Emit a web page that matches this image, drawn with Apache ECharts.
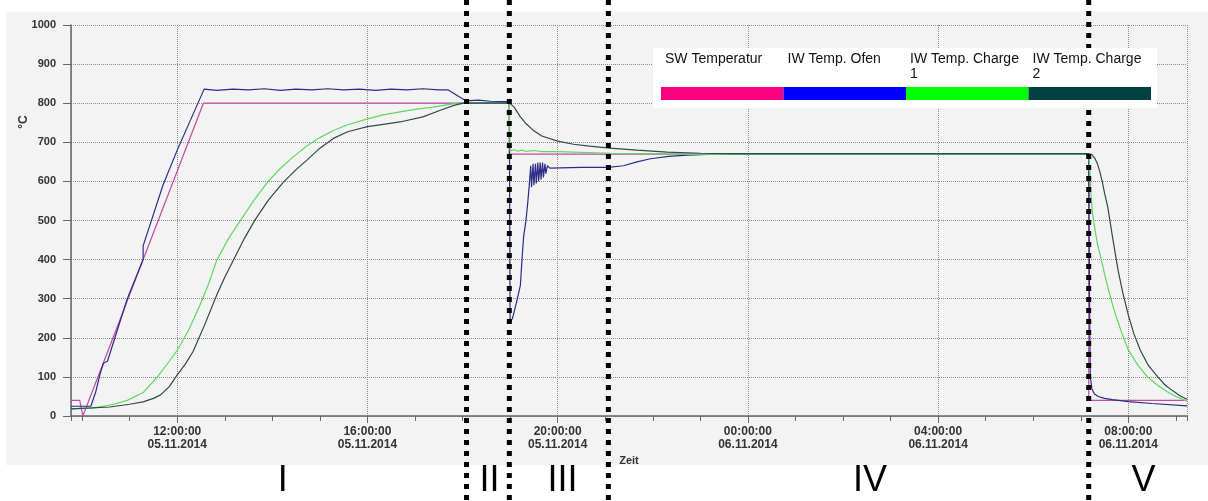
<!DOCTYPE html>
<html>
<head>
<meta charset="utf-8">
<title>Temperaturverlauf</title>
<script src="https://cdn.jsdelivr.net/npm/echarts@6/dist/echarts.min.js"></script>
<style>
  html, body { margin: 0; padding: 0; background: #fff; }
  #chart { width: 1208px; height: 501px; }
</style>
</head>
<body>
<div id="chart"></div>
<script>
// Zeitangaben als 'Tag HH:MM' (November 2014)
var timeRange = ['5 09:46', '6 09:14'];

var seriesNames = ['SW Temperatur', 'IW Temp. Ofen', 'IW Temp. Charge 1', 'IW Temp. Charge 2'];
var legendColors = ['#ff0080', '#0000ff', '#00ff00', '#004040'];
var lineColors = ['#c24aa8', '#2c2c86', '#5ed85e', '#2e4a4a'];

var swTemp = [
  ['5 09:46', 40], ['5 09:57', 40], ['5 10:01', 0], ['5 12:33', 800], ['5 18:59', 800],
  ['5 18:59', 670], ['6 07:10', 670], ['6 07:10', 40], ['6 09:14', 40]
];

var iwOfen = [
  ['5 09:46', 25], ['5 10:11', 25], ['5 10:17', 60], ['5 10:23', 110], ['5 10:27', 135],
  ['5 10:32', 140], ['5 10:57', 300], ['5 11:17', 400], ['5 11:17', 435], ['5 11:42', 590],
  ['5 12:00', 680], ['5 12:34', 836], ['5 12:50', 833], ['5 13:10', 836], ['5 13:30', 834],
  ['5 13:50', 837], ['5 14:10', 833], ['5 14:30', 836], ['5 14:50', 834], ['5 15:10', 837],
  ['5 15:30', 834], ['5 15:50', 836], ['5 16:10', 833], ['5 16:30', 836], ['5 16:50', 834],
  ['5 17:10', 837], ['5 17:30', 834], ['5 17:42', 834], ['5 18:04', 806], ['5 18:20', 808],
  ['5 18:35', 805], ['5 18:59', 804], ['5 19:00', 238], ['5 19:03', 250], ['5 19:08', 290],
  ['5 19:13', 335], ['5 19:15', 400], ['5 19:17', 458], ['5 19:20', 500], ['5 19:22', 540],
  ['5 19:24', 586], ['5 19:26', 640], ['5 19:27', 585], ['5 19:29', 645], ['5 19:30', 590],
  ['5 19:32', 645], ['5 19:33', 595], ['5 19:35', 648], ['5 19:36', 600], ['5 19:38', 648],
  ['5 19:39', 605], ['5 19:41', 648], ['5 19:42', 610], ['5 19:44', 645], ['5 19:45', 620],
  ['5 19:47', 640], ['5 19:50', 634], ['5 20:30', 636], ['5 21:04', 636], ['5 21:23', 640],
  ['5 21:40', 650], ['5 21:57', 658], ['5 22:20', 664], ['5 22:44', 667], ['5 23:10', 669],
  ['5 23:40', 670], ['6 07:10', 670], ['6 07:11', 300], ['6 07:12', 100], ['6 07:14', 70],
  ['6 07:17', 57], ['6 07:22', 50], ['6 07:30', 45], ['6 07:40', 42], ['6 08:00', 37],
  ['6 08:30', 32], ['6 09:14', 26]
];

var iwCharge1 = [
  ['5 09:46', 18], ['5 10:14', 20], ['5 10:40', 30], ['5 10:57', 40], ['5 11:17', 60],
  ['5 11:35', 100], ['5 11:50', 140], ['5 12:00', 168], ['5 12:15', 222], ['5 12:29', 285],
  ['5 12:40', 340], ['5 12:50', 399], ['5 13:05', 455], ['5 13:20', 501], ['5 13:37', 552],
  ['5 13:54', 598], ['5 14:10', 633], ['5 14:26', 662], ['5 14:43', 690], ['5 15:00', 712],
  ['5 15:17', 730], ['5 15:35', 745], ['5 16:00', 760], ['5 16:20', 770], ['5 16:41', 778],
  ['5 17:00', 784], ['5 17:23', 790], ['5 17:53', 800], ['5 18:59', 800], ['5 19:00', 678],
  ['5 19:05', 681], ['5 19:10', 677], ['5 19:15', 680], ['5 19:20', 677], ['5 19:30', 679],
  ['5 19:40', 676], ['5 20:00', 676], ['5 21:06', 672], ['5 22:44', 669], ['5 23:41', 670],
  ['6 07:10', 670], ['6 07:11', 666], ['6 07:12', 610], ['6 07:13', 560], ['6 07:15', 515],
  ['6 07:18', 476], ['6 07:21', 440], ['6 07:25', 407], ['6 07:29', 372], ['6 07:34', 330],
  ['6 07:40', 285], ['6 07:46', 246], ['6 07:53', 205], ['6 08:00', 169], ['6 08:12', 130],
  ['6 08:24', 100], ['6 08:36', 80], ['6 08:49', 62], ['6 09:00', 50], ['6 09:14', 38]
];

var iwCharge2 = [
  ['5 09:46', 18], ['5 10:35', 23], ['5 11:00', 30], ['5 11:17', 36], ['5 11:30', 45],
  ['5 11:39', 54], ['5 11:50', 75], ['5 12:00', 105], ['5 12:10', 132], ['5 12:20', 165],
  ['5 12:35', 235], ['5 12:50', 310], ['5 13:00', 355], ['5 13:11', 399], ['5 13:25', 455],
  ['5 13:38', 501], ['5 13:55', 552], ['5 14:14', 598], ['5 14:30', 630], ['5 14:44', 655],
  ['5 15:00', 685], ['5 15:17', 710], ['5 15:35', 727], ['5 16:00', 740], ['5 16:20', 746],
  ['5 16:41', 752], ['5 17:10', 765], ['5 17:32', 782], ['5 17:50', 795], ['5 18:01', 800],
  ['5 18:59', 801], ['5 19:00', 803], ['5 19:05', 790], ['5 19:13', 765], ['5 19:20', 748],
  ['5 19:29', 731], ['5 19:40', 716], ['5 20:00', 703], ['5 20:20', 695], ['5 20:40', 690],
  ['5 21:06', 685], ['5 21:40', 680], ['5 22:18', 675], ['5 23:00', 672], ['5 23:41', 671],
  ['6 07:10', 671], ['6 07:14', 668], ['6 07:18', 658], ['6 07:21', 645], ['6 07:24', 625],
  ['6 07:27', 600], ['6 07:30', 570], ['6 07:34', 535], ['6 07:40', 458], ['6 07:47', 373],
  ['6 07:53', 315], ['6 08:00', 258], ['6 08:07', 210], ['6 08:15', 169], ['6 08:25', 130],
  ['6 08:37', 100], ['6 08:47', 78], ['6 08:57', 63], ['6 09:05', 52], ['6 09:14', 43]
];

// Phasengrenzen und Beschriftung der Phasen
var phaseBounds = ['5 18:05', '5 18:59', '5 21:04', '6 07:10'];
var phaseLabels = ['I', 'II', 'III', 'IV', 'V'];
var phaseLabelTimes = ['5 14:13', '5 18:34', '5 20:06', '6 02:34', '6 08:19'];

function ts(s) {
  var p = s.split(' ');
  var hm = p[1].split(':');
  return new Date(2014, 10, +p[0], +hm[0], +hm[1]).getTime();
}
function pts(arr) {
  return arr.map(function (d) { return [ts(d[0]), d[1]]; });
}
function pad(n) { return (n < 10 ? '0' : '') + n; }

var chart = echarts.init(document.getElementById('chart'));

var dataSets = [swTemp, iwOfen, iwCharge1, iwCharge2];
var series = dataSets.map(function (d, i) {
  return {
    name: seriesNames[i],
    type: 'line',
    data: pts(d),
    showSymbol: false,
    lineStyle: { color: lineColors[i], width: 1.2 },
    itemStyle: { color: lineColors[i] },
    animation: false
  };
});

var option = {
  backgroundColor: '#fff',
  animation: false,
  grid: { left: 71, right: 21, top: 25, bottom: 85 },
  xAxis: [{
    type: 'time',
    min: ts(timeRange[0]),
    max: ts(timeRange[1]),
    minInterval: 4 * 3600 * 1000,
    maxInterval: 4 * 3600 * 1000,
    name: 'Zeit',
    nameLocation: 'middle',
    nameGap: 37,
    nameTextStyle: { fontWeight: 'bold', fontSize: 11, color: '#333', fontFamily: 'Arial' },
    axisLine: { lineStyle: { color: '#666', width: 1.5 } },
    axisTick: { length: 7, lineStyle: { color: '#666' } },
    axisLabel: {
      fontWeight: 'bold', fontSize: 12, color: '#333', lineHeight: 13, margin: 9,
      fontFamily: 'Arial',
      formatter: function (v) {
        var d = new Date(v);
        if (d.getMinutes() !== 0 || d.getHours() % 4 !== 0) return '';
        return pad(d.getHours()) + ':00:00\n' + pad(d.getDate()) + '.' + pad(d.getMonth() + 1) + '.' + d.getFullYear();
      }
    },
    splitLine: { show: true, lineStyle: { color: '#8c8c8c', type: 'dotted', width: 1 } }
  }, {
    // stündliche Hilfsstriche
    type: 'time',
    position: 'bottom',
    min: ts(timeRange[0]),
    max: ts(timeRange[1]),
    minInterval: 3600 * 1000,
    maxInterval: 3600 * 1000,
    axisLine: { show: false },
    axisTick: { length: 5, lineStyle: { color: '#666' } },
    axisLabel: { show: false },
    splitLine: { show: false }
  }],
  yAxis: {
    type: 'value',
    min: 0,
    max: 1000,
    interval: 100,
    axisLine: { show: true, lineStyle: { color: '#666', width: 1.5 } },
    axisTick: { show: true, length: 8, lineStyle: { color: '#666' } },
    axisLabel: {
      fontWeight: 'bold', fontSize: 11, color: '#333', margin: 15, fontFamily: 'Arial',
      formatter: function (v) { return String(v); }
    },
    splitLine: { show: true, lineStyle: { color: '#8c8c8c', type: 'dotted', width: 1 } }
  },
  series: series
};

chart.setOption(option);

// Hintergrund, Legende, Phasenlinien
var graphics = [];
graphics.push({
  type: 'rect', z: -100, silent: true,
  shape: { x: 6, y: 12, width: 1202, height: 453 },
  style: { fill: '#f3f3f3' }
});
graphics.push({
  type: 'text', z: 50,
  x: 24, y: 122, rotation: Math.PI / 2,
  style: { text: '°C', font: 'bold 12px Arial', fill: '#333', align: 'center', verticalAlign: 'middle' }
});

phaseBounds.forEach(function (t) {
  var px = chart.convertToPixel({ xAxisIndex: 0 }, ts(t));
  graphics.push({
    type: 'line', z: 100, silent: true,
    shape: { x1: px, y1: 0, x2: px, y2: 501 },
    style: { stroke: '#000', lineWidth: 5, lineDash: [5, 6] }
  });
});

phaseLabels.forEach(function (lab, i) {
  var px = chart.convertToPixel({ xAxisIndex: 0 }, ts(phaseLabelTimes[i]));
  graphics.push({
    type: 'text', z: 100,
    x: px, y: 481,
    style: { text: lab, font: '36px "Liberation Sans", Arial', fill: '#000', align: 'center', verticalAlign: 'middle' }
  });
});

var legX = 653, legY = 48, segW = 122.5;
graphics.push({
  type: 'rect', z: 110,
  shape: { x: legX, y: legY, width: 504, height: 60 },
  style: { fill: '#fff' }
});
seriesNames.forEach(function (name, i) {
  graphics.push({
    type: 'text', z: 111,
    x: legX + 12 + i * segW, y: legY + 4,
    style: { text: name.replace(/ (\d)$/, '\n$1'), font: '14px Arial', fill: '#111', lineHeight: 15 }
  });
  graphics.push({
    type: 'rect', z: 111,
    shape: { x: legX + 8 + i * segW, y: legY + 39, width: segW, height: 13 },
    style: { fill: legendColors[i] }
  });
});

chart.setOption({ graphic: graphics });
</script>
</body>
</html>
